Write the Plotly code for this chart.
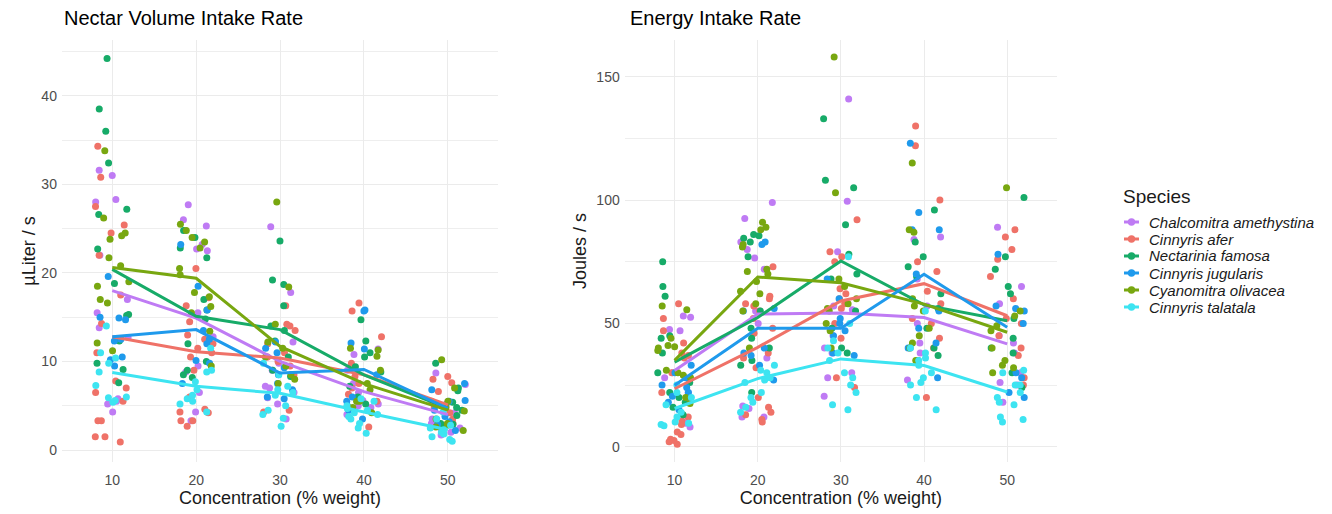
import numpy as np
import plotly.graph_objects as go

# ---------------------------------------------------------------- data
concentrations = [10, 20, 30, 40, 50]

species = [
    "Chalcomitra amethystina",
    "Cinnyris afer",
    "Nectarinia famosa",
    "Cinnyris jugularis",
    "Cyanomitra olivacea",
    "Cinnyris talatala",
]
colors = ["#BF7BF4", "#EF7268", "#17AB68", "#1F9AEC", "#78A710", "#3DE4F1"]

# Nectar volume intake rate (µL/s), one list per concentration
vol_amethystina = [
    [31.6, 31.0, 28.3, 28.0, 22.0, 17.0, 15.5, 13.8, 12.7, 5.5, 5.2, 4.3, 5.8],
    [27.7, 26.0, 25.3, 23.2, 22.7, 22.5, 15.5, 12.8, 8.8, 9.5, 4.3, 3.3, 6.5],
    [25.2, 17.8, 12.2, 10.5, 9.8, 9.0, 7.2, 6.5, 5.2, 5.9, 3.5, 7.0],
    [11.4, 10.8, 9.0, 7.5, 6.5, 5.6, 5.2, 4.8, 5.0, 4.0],
    [8.7, 7.4, 5.2, 4.2, 3.5, 3.0, 2.5, 2.0, 1.7, 2.2],
]
vol_afer = [
    [34.3, 30.8, 27.5, 25.4, 24.5, 22.0, 17.5, 14.3, 11.0, 7.8, 7.0, 6.5, 5.5, 3.3, 3.3, 1.5, 1.5, 0.9],
    [20.5, 17.2, 16.3, 14.5, 13.0, 12.0, 11.0, 10.5, 9.0, 6.0, 4.6, 4.3, 3.3, 3.3, 2.7, 4.2, 12.5, 11.5],
    [16.3, 14.2, 14.0, 13.5, 12.0, 11.0, 10.5, 10.0, 9.5, 8.5, 4.5, 4.3],
    [16.6, 15.7, 12.8, 9.8, 8.3, 7.5, 6.3, 5.5, 2.6, 7.0],
    [8.3, 8.0, 7.6, 6.6, 5.5, 4.8, 4.2, 3.5, 2.5, 3.0],
]
vol_famosa = [
    [44.2, 38.5, 36.0, 32.4, 27.2, 26.6, 22.7, 18.8, 15.3, 15.2, 12.3, 9.8, 9.1, 7.6],
    [24.8, 24.0, 22.8, 21.7, 17.0, 15.8, 14.8, 12.0, 10.0, 9.0, 8.5, 8.2],
    [23.6, 19.2, 18.7, 16.3, 14.0, 13.5, 12.3, 10.5, 9.0, 8.3],
    [14.7, 12.3, 11.0, 10.5, 9.4, 8.8, 7.2, 6.0, 5.2, 5.0],
    [9.8, 7.0, 6.7, 5.4, 4.5, 3.9, 3.0, 2.9, 2.5, 4.8],
]
vol_jugularis = [
    [19.6, 15.0, 14.7, 14.9, 12.5, 12.3, 10.5, 10.2, 9.5],
    [23.2, 18.5, 15.8, 13.5, 12.0, 10.1, 9.8, 7.5, 12.5],
    [12.2, 11.5, 9.3, 8.5, 7.5, 6.8, 6.0, 5.8, 11.0],
    [15.8, 15.7, 12.1, 11.4, 8.5, 6.0, 5.5, 4.5, 3.5],
    [7.5, 6.8, 5.6, 5.5, 4.5, 3.8, 2.9, 2.2, 3.2],
]
vol_olivacea = [
    [33.8, 26.2, 24.5, 24.2, 23.8, 21.7, 20.8, 19.0, 18.5, 17.0, 16.6, 11.2, 12.1],
    [25.5, 24.8, 24.0, 23.5, 22.8, 20.5, 19.8, 17.8, 17.3, 16.2, 15.5, 13.4, 9.5],
    [28.0, 18.4, 14.2, 12.2, 11.5, 10.5, 9.5, 8.5, 8.0, 7.5],
    [11.5, 11.3, 10.6, 9.0, 7.5, 6.8, 5.5, 4.8, 5.5, 4.2],
    [10.2, 7.0, 5.5, 4.8, 4.4, 3.5, 3.0, 2.6, 2.2, 2.8],
]
vol_talatala = [
    [14.0, 11.0, 10.4, 9.8, 8.8, 7.3, 5.9, 5.6, 5.4, 6.0],
    [11.5, 9.0, 8.8, 7.7, 6.8, 6.2, 5.5, 5.2, 4.3, 5.8],
    [9.8, 8.5, 7.2, 6.8, 6.2, 5.0, 4.5, 4.0, 3.6, 2.7, 6.5],
    [5.8, 5.5, 5.0, 4.7, 4.5, 4.2, 3.8, 3.5, 3.0, 2.5, 1.9, 4.0],
    [4.3, 3.5, 2.8, 2.5, 2.3, 2.0, 1.8, 1.5, 1.2, 1.0],
]

# Mean nectar volume intake per species
vol_mean_amethystina = [18.0, 14.9, 10.0, 6.6, 4.0]
vol_mean_afer = [12.8, 11.1, 10.4, 8.5, 5.1]
vol_mean_famosa = [20.4, 15.1, 13.6, 8.5, 4.7]
vol_mean_jugularis = [12.8, 13.6, 8.7, 9.1, 4.7]
vol_mean_olivacea = [20.6, 19.4, 11.7, 7.5, 4.5]
vol_mean_talatala = [8.75, 7.2, 6.4, 4.3, 2.3]

# Energy intake rate (J/s), one list per concentration
nrg_amethystina = [
    [53.0, 52.5, 47.5, 47.0, 30.0, 28.0, 22.0, 10.0, 8.0, 9.5],
    [99.0, 92.5, 83.0, 80.0, 76.5, 72.0, 55.0, 50.0, 36.0, 16.5, 12.0, 12.0, 15.5],
    [141.0, 99.5, 79.0, 57.0, 55.5, 45.0, 40.0, 38.0, 20.5, 30.0, 28.0],
    [85.0, 84.0, 68.0, 57.0, 50.0, 42.0, 40.0, 38.0, 27.0],
    [89.0, 65.0, 58.0, 45.0, 42.0, 30.0, 26.0, 18.0, 38.0, 25.0],
]
nrg_afer = [
    [58.0, 52.0, 47.0, 42.0, 38.0, 37.0, 36.0, 30.0, 22.0, 12.0, 9.0, 6.0, 5.0, 3.0, 2.0, 1.0, 2.5, 10.5],
    [73.0, 61.0, 57.0, 52.0, 48.0, 46.0, 38.0, 36.0, 32.0, 20.0, 16.0, 14.0, 13.0, 11.0, 10.0, 58.0, 60.0, 55.0],
    [92.0, 79.0, 77.0, 75.0, 62.0, 58.0, 56.0, 50.0, 44.0, 28.0, 24.0, 60.0, 64.0],
    [130.0, 122.0, 100.0, 75.0, 71.0, 63.0, 58.0, 52.0, 44.0, 40.0, 20.0, 50.0],
    [88.0, 85.0, 80.0, 76.0, 69.0, 60.0, 52.0, 50.0, 45.0, 37.0, 28.0, 40.0, 25.0],
]
nrg_famosa = [
    [75.0, 65.0, 61.0, 45.0, 44.0, 38.0, 30.0, 26.0, 22.0, 20.0, 16.0, 13.0, 18.0],
    [86.0, 85.5, 84.5, 83.0, 77.0, 48.0, 44.0, 55.0, 35.0, 22.0, 40.0, 33.0],
    [133.0, 108.0, 105.0, 90.0, 78.0, 70.0, 68.0, 55.0, 48.0, 40.0, 38.0],
    [96.0, 83.0, 77.0, 73.0, 69.0, 62.0, 56.0, 48.0, 40.0, 37.0, 35.0],
    [101.0, 77.0, 72.0, 65.0, 62.0, 52.0, 44.0, 40.0, 30.0, 24.0, 38.0],
]
nrg_jugularis = [
    [33.0, 30.0, 28.0, 25.0, 22.0, 20.5, 20.0, 18.0, 15.0, 24.0],
    [83.0, 82.0, 56.0, 55.0, 38.0, 33.0, 27.0, 40.0, 37.0],
    [68.0, 60.0, 52.0, 50.0, 47.0, 38.0, 37.0, 45.0],
    [123.0, 95.0, 88.0, 88.0, 70.0, 55.0, 48.0, 42.0, 40.0, 28.0],
    [78.0, 57.0, 56.0, 55.0, 50.0, 30.0, 28.0, 20.0, 22.0],
]
nrg_olivacea = [
    [57.0, 55.5, 44.0, 41.0, 40.5, 40.0, 39.0, 31.0, 30.0, 29.0, 28.0, 20.0, 17.5],
    [91.0, 89.0, 88.0, 82.0, 81.0, 72.0, 71.0, 70.0, 67.0, 63.0, 62.0, 58.0, 55.0, 40.0],
    [158.0, 103.0, 58.0, 55.0, 68.0, 65.0, 60.0, 56.0, 50.0, 47.0, 40.0],
    [115.0, 88.0, 87.0, 57.0, 55.0, 48.0, 45.0, 42.0, 40.0, 35.0, 60.0],
    [105.0, 55.0, 53.0, 49.0, 47.0, 40.0, 35.0, 33.0, 32.0, 30.0],
]
nrg_talatala = [
    [17.0, 14.0, 12.0, 10.0, 9.5, 9.0, 8.5, 22.0, 25.0, 20.0],
    [33.0, 31.0, 30.0, 27.0, 26.0, 22.0, 20.0, 18.0, 16.0, 14.0, 28.0],
    [77.0, 50.0, 43.0, 38.0, 35.0, 30.0, 28.0, 25.0, 22.0, 17.0, 15.0, 40.0],
    [55.0, 40.0, 38.0, 36.0, 35.0, 33.0, 30.0, 28.0, 26.0, 25.0, 20.0, 15.0],
    [31.0, 30.0, 25.0, 22.0, 20.0, 18.0, 17.0, 12.0, 11.0, 10.0, 25.0],
]

# Mean energy intake per species
nrg_mean_amethystina = [30.9, 53.8, 54.2, 52.4, 41.7]
nrg_mean_afer = [23.5, 40.3, 59.1, 66.1, 53.1]
nrg_mean_famosa = [34.3, 52.4, 75.3, 57.5, 51.1]
nrg_mean_jugularis = [24.9, 48.0, 48.0, 69.9, 48.4]
nrg_mean_olivacea = [35.0, 68.8, 66.5, 57.8, 46.4]
nrg_mean_talatala = [15.5, 27.6, 35.6, 32.9, 22.2]

volume_points = [vol_amethystina, vol_afer, vol_famosa, vol_jugularis, vol_olivacea, vol_talatala]
volume_means = [vol_mean_amethystina, vol_mean_afer, vol_mean_famosa,
                vol_mean_jugularis, vol_mean_olivacea, vol_mean_talatala]
energy_points = [nrg_amethystina, nrg_afer, nrg_famosa, nrg_jugularis, nrg_olivacea, nrg_talatala]
energy_means = [nrg_mean_amethystina, nrg_mean_afer, nrg_mean_famosa,
                nrg_mean_jugularis, nrg_mean_olivacea, nrg_mean_talatala]

# ---------------------------------------------------------------- figure
W, H = 1332, 514
M_TOP, M_BOT = 40, 52
PLOT_H = H - M_TOP - M_BOT

FONT = "Liberation Sans, Arial, sans-serif"
rng = np.random.default_rng(11)   # horizontal jitter, like geom_jitter
JITTER = 2.1

fig = go.Figure()


def add_panel(points, means, xa, ya):
    # jittered observations
    for col, groups in zip(colors, points):
        xs, ys = [], []
        for c, vals in zip(concentrations, groups):
            xs.extend(c + rng.uniform(-JITTER, JITTER, len(vals)))
            ys.extend(vals)
        fig.add_trace(go.Scatter(
            x=xs, y=ys, mode="markers", xaxis=xa, yaxis=ya,
            marker=dict(color=col, size=7, line=dict(width=0)),
            showlegend=False, hoverinfo="skip"))
    # species means joined by lines
    for col, m in zip(colors, means):
        fig.add_trace(go.Scatter(
            x=concentrations, y=m, mode="lines", xaxis=xa, yaxis=ya,
            line=dict(color=col, width=3), showlegend=False))


add_panel(volume_points, volume_means, "x", "y")
add_panel(energy_points, energy_means, "x2", "y2")

GRID = "#EBEBEB"
tickfont = dict(family=FONT, size=14, color="#4D4D4D")
titlefont = dict(family=FONT, size=18, color="#1A1A1A")

xcommon = dict(range=[4, 56], tickvals=concentrations, showgrid=True, gridcolor=GRID,
               gridwidth=1, zeroline=False, showline=False, ticks="",
               tickfont=tickfont, ticklabelstandoff=8,
               title=dict(text="Concentration (% weight)", font=titlefont, standoff=1))


def ycommon(rng_, ticks, minor_ticks, title, standoff):
    return dict(domain=[0, 1], range=rng_, tickvals=ticks,
                showgrid=True, gridcolor=GRID, gridwidth=1, zeroline=False,
                showline=False, ticks="", tickfont=tickfont, ticklabelstandoff=4,
                minor=dict(tickvals=minor_ticks, showgrid=True, gridcolor="#EEEEEE",
                           gridwidth=1),
                title=dict(text=title, font=titlefont, standoff=standoff))


def px_x(x):
    return x / W


def px_y(y):
    return (H - M_BOT - y) / PLOT_H


# legend drawn as key glyphs + labels on the right
shapes, annotations = [], []
annotations.append(dict(text="Species", x=px_x(1121), y=px_y(196), xref="paper", yref="paper",
                        xanchor="left", yanchor="middle", showarrow=False,
                        font=dict(family=FONT, size=19, color="#1A1A1A")))
for i, (name, col) in enumerate(zip(species, colors)):
    yc = 222 + 17 * i
    shapes.append(dict(type="line", xref="paper", yref="paper",
                       x0=px_x(1124), x1=px_x(1139), y0=px_y(yc), y1=px_y(yc),
                       line=dict(color=col, width=3)))
    shapes.append(dict(type="circle", xref="paper", yref="paper",
                       x0=px_x(1127.8), x1=px_x(1135.2), y0=px_y(yc + 3.7), y1=px_y(yc - 3.7),
                       fillcolor=col, line=dict(width=0)))
    annotations.append(dict(text=f"<i>{name}</i>", x=px_x(1147), y=px_y(yc),
                            xref="paper", yref="paper", xanchor="left", yanchor="middle",
                            showarrow=False,
                            font=dict(family=FONT, size=15, color="#1A1A1A")))

annotations.append(dict(text="Nectar Volume Intake Rate", x=0.0465, y=px_y(18),
                        xref="paper", yref="paper", xanchor="left", yanchor="middle",
                        showarrow=False, font=dict(family=FONT, size=20, color="#000000")))
annotations.append(dict(text="Energy Intake Rate", x=px_x(628), y=px_y(18),
                        xref="paper", yref="paper", xanchor="left", yanchor="middle",
                        showarrow=False, font=dict(family=FONT, size=20, color="#000000")))

fig.update_layout(
    width=W, height=H,
    margin=dict(l=0, r=0, t=M_TOP, b=M_BOT),
    paper_bgcolor="white", plot_bgcolor="white",
    font=dict(family=FONT),
    showlegend=False,
    xaxis=dict(domain=[0.0465, 0.374], anchor="y", **xcommon),
    xaxis2=dict(domain=[0.469, 0.7936], anchor="y2", **xcommon),
    yaxis=dict(anchor="x", **ycommon([-1.35, 46.3], [0, 10, 20, 30, 40],
                                     [5, 15, 25, 35, 45], "µLiter / s", 1)),
    yaxis2=dict(anchor="x2", **ycommon([-6.2, 164.9], [0, 50, 100, 150],
                                       [25, 75, 125], "Joules / s", 5)),
    shapes=shapes,
    annotations=annotations,
)

fig.write_html("out.html")
